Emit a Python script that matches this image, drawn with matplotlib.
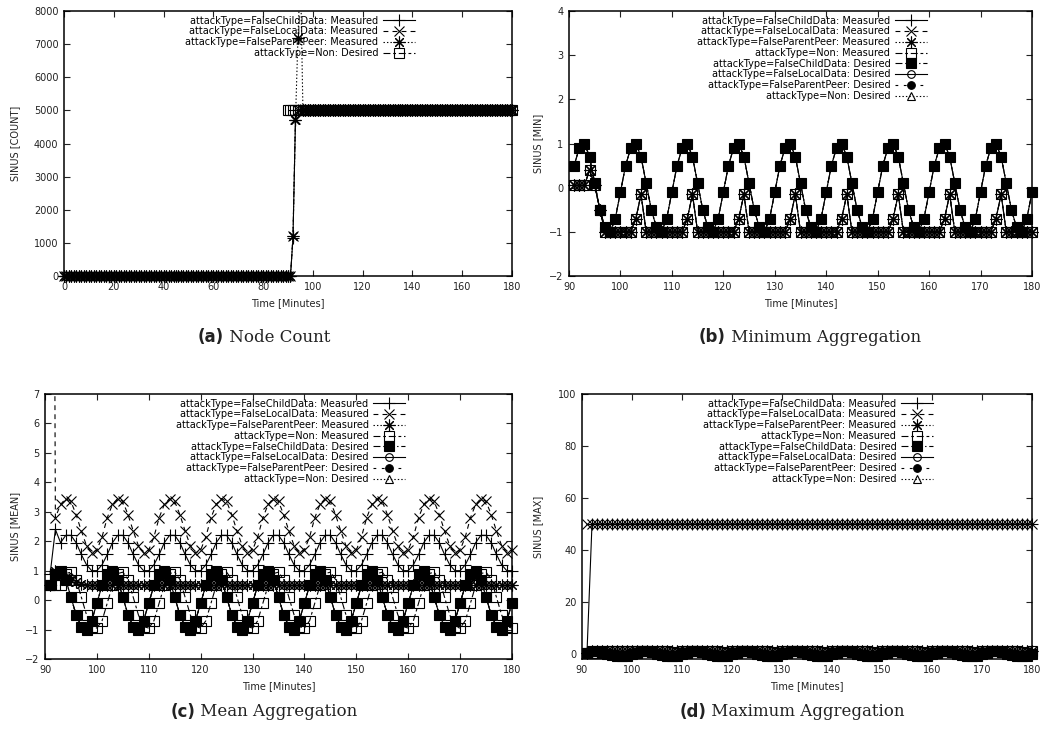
import numpy as np
import matplotlib
matplotlib.use('Agg')
import matplotlib.pyplot as plt
from matplotlib.lines import Line2D

plt.rcParams['font.family'] = 'DejaVu Sans'
plt.rcParams['lines.scale_dashes'] = False

# ---- node count (0-180 min) ----
t_count = np.arange(0, 181)
count_child_meas = [0] * 92 + [1150, 4700] + [5000] * 87
count_local_meas = [0] * 92 + [1200, 4750] + [5000] * 87
count_parent_meas = [0] * 92 + [1200, 4700, 7200, 9200] + [5000] * 85
t_count_desired = np.arange(90, 181)
count_non_desired = [5000] * 91

# ---- aggregations (91-180 min) ----
t_agg = np.arange(91, 181)

desired_sine = [
    0.5, 0.9, 1.0, 0.7, 0.1, -0.5, -0.9, -1.0, -0.7, -0.1,
    0.5, 0.9, 1.0, 0.7, 0.1, -0.5, -0.9, -1.0, -0.7, -0.1,
    0.5, 0.9, 1.0, 0.7, 0.1, -0.5, -0.9, -1.0, -0.7, -0.1,
    0.5, 0.9, 1.0, 0.7, 0.1, -0.5, -0.9, -1.0, -0.7, -0.1,
    0.5, 0.9, 1.0, 0.7, 0.1, -0.5, -0.9, -1.0, -0.7, -0.1,
    0.5, 0.9, 1.0, 0.7, 0.1, -0.5, -0.9, -1.0, -0.7, -0.1,
    0.5, 0.9, 1.0, 0.7, 0.1, -0.5, -0.9, -1.0, -0.7, -0.1,
    0.5, 0.9, 1.0, 0.7, 0.1, -0.5, -0.9, -1.0, -0.7, -0.1,
    0.5, 0.9, 1.0, 0.7, 0.1, -0.5, -0.9, -1.0, -0.7, -0.1,
]

min_measured = [
    0.05, 0.05, 0.05, 0.4, 0.05, -0.5, -1.0, -1.0, -1.0, -1.0,
    -1.0, -1.0, -0.7, -0.15, -1.0, -1.0, -1.0, -1.0, -1.0, -1.0,
    -1.0, -1.0, -0.7, -0.15, -1.0, -1.0, -1.0, -1.0, -1.0, -1.0,
    -1.0, -1.0, -0.7, -0.15, -1.0, -1.0, -1.0, -1.0, -1.0, -1.0,
    -1.0, -1.0, -0.7, -0.15, -1.0, -1.0, -1.0, -1.0, -1.0, -1.0,
    -1.0, -1.0, -0.7, -0.15, -1.0, -1.0, -1.0, -1.0, -1.0, -1.0,
    -1.0, -1.0, -0.7, -0.15, -1.0, -1.0, -1.0, -1.0, -1.0, -1.0,
    -1.0, -1.0, -0.7, -0.15, -1.0, -1.0, -1.0, -1.0, -1.0, -1.0,
    -1.0, -1.0, -0.7, -0.15, -1.0, -1.0, -1.0, -1.0, -1.0, -1.0,
]

mean_child_meas = [
    0.9, 2.4, 1.95, 2.2, 2.2, 1.95, 1.55, 1.2, 1.0, 1.0,
    1.2, 1.55, 1.95, 2.2, 2.2, 1.95, 1.55, 1.2, 1.0, 1.0,
    1.2, 1.55, 1.95, 2.2, 2.2, 1.95, 1.55, 1.2, 1.0, 1.0,
    1.2, 1.55, 1.95, 2.2, 2.2, 1.95, 1.55, 1.2, 1.0, 1.0,
    1.2, 1.55, 1.95, 2.2, 2.2, 1.95, 1.55, 1.2, 1.0, 1.0,
    1.2, 1.55, 1.95, 2.2, 2.2, 1.95, 1.55, 1.2, 1.0, 1.0,
    1.2, 1.55, 1.95, 2.2, 2.2, 1.95, 1.55, 1.2, 1.0, 1.0,
    1.2, 1.55, 1.95, 2.2, 2.2, 1.95, 1.55, 1.2, 1.0, 1.0,
    1.2, 1.55, 1.95, 2.2, 2.2, 1.95, 1.55, 1.2, 1.0, 1.0,
]
mean_local_meas = [
    50, 2.8, 3.25, 3.45, 3.35, 2.9, 2.35, 1.85, 1.6, 1.7,
    2.15, 2.8, 3.25, 3.45, 3.35, 2.9, 2.35, 1.85, 1.6, 1.7,
    2.15, 2.8, 3.25, 3.45, 3.35, 2.9, 2.35, 1.85, 1.6, 1.7,
    2.15, 2.8, 3.25, 3.45, 3.35, 2.9, 2.35, 1.85, 1.6, 1.7,
    2.15, 2.8, 3.25, 3.45, 3.35, 2.9, 2.35, 1.85, 1.6, 1.7,
    2.15, 2.8, 3.25, 3.45, 3.35, 2.9, 2.35, 1.85, 1.6, 1.7,
    2.15, 2.8, 3.25, 3.45, 3.35, 2.9, 2.35, 1.85, 1.6, 1.7,
    2.15, 2.8, 3.25, 3.45, 3.35, 2.9, 2.35, 1.85, 1.6, 1.7,
    2.15, 2.8, 3.25, 3.45, 3.35, 2.9, 2.35, 1.85, 1.6, 1.7,
]
mean_parent_meas = [0.5, 1.0, 0.9, 0.8, 0.7, 0.62, 0.56, 0.52, 0.5, 0.5] + [0.5] * 80
mean_non_meas = [
    0.5, 0.5, 0.5, 0.9, 0.95, 0.7, 0.1, -0.5, -0.9, -0.95,
    -0.7, -0.1, 0.5, 0.9, 0.95, 0.7, 0.1, -0.5, -0.9, -0.95,
    -0.7, -0.1, 0.5, 0.9, 0.95, 0.7, 0.1, -0.5, -0.9, -0.95,
    -0.7, -0.1, 0.5, 0.9, 0.95, 0.7, 0.1, -0.5, -0.9, -0.95,
    -0.7, -0.1, 0.5, 0.9, 0.95, 0.7, 0.1, -0.5, -0.9, -0.95,
    -0.7, -0.1, 0.5, 0.9, 0.95, 0.7, 0.1, -0.5, -0.9, -0.95,
    -0.7, -0.1, 0.5, 0.9, 0.95, 0.7, 0.1, -0.5, -0.9, -0.95,
    -0.7, -0.1, 0.5, 0.9, 0.95, 0.7, 0.1, -0.5, -0.9, -0.95,
    -0.7, -0.1, 0.5, 0.9, 0.95, 0.7, 0.1, -0.5, -0.9, -0.95,
]

max_child_meas = [0.5] + [50] * 89
max_local_meas = [50] * 90
max_parent_meas = [0.5, 0.9] + [1.0] * 88
max_non_meas = [
    0.5, 0.5, 0.5, 0.9, 1.0, 1.0, 1.0, 1.0, 1.0, 1.0,
    1.0, 1.0, 1.0, 1.0, 1.0, 1.0, 1.0, 0.7, 0.15, 1.0,
    1.0, 1.0, 1.0, 1.0, 1.0, 1.0, 1.0, 0.7, 0.15, 1.0,
    1.0, 1.0, 1.0, 1.0, 1.0, 1.0, 1.0, 0.7, 0.15, 1.0,
    1.0, 1.0, 1.0, 1.0, 1.0, 1.0, 1.0, 0.7, 0.15, 1.0,
    1.0, 1.0, 1.0, 1.0, 1.0, 1.0, 1.0, 0.7, 0.15, 1.0,
    1.0, 1.0, 1.0, 1.0, 1.0, 1.0, 1.0, 0.7, 0.15, 1.0,
    1.0, 1.0, 1.0, 1.0, 1.0, 1.0, 1.0, 0.7, 0.15, 1.0,
    1.0, 1.0, 1.0, 1.0, 1.0, 1.0, 1.0, 0.7, 0.15, 1.0,
]

labels8 = [
    'attackType=FalseChildData: Measured',
    'attackType=FalseLocalData: Measured',
    'attackType=FalseParentPeer: Measured',
    'attackType=Non: Measured',
    'attackType=FalseChildData: Desired',
    'attackType=FalseLocalData: Desired',
    'attackType=FalseParentPeer: Desired',
    'attackType=Non: Desired',
]
labels_count = labels8[:3] + [labels8[7]]

# gnuplot-like monochrome line types
STYLES = [
    dict(ls='-', marker='+', ms=8.5, mfc='none'),
    dict(ls=(0, (3.5, 3)), marker='x', ms=7, mfc='none'),
    dict(ls=(0, (1, 1.5)), marker=(8, 2, 0), ms=8.5, mfc='none'),
    dict(ls=(0, (5, 2, 2, 2)), marker='s', ms=7, mfc='none'),
    dict(ls=(0, (5, 2, 1, 2)), marker='s', ms=7, mfc='black'),
    dict(ls='-', marker='o', ms=5.5, mfc='none'),
    dict(ls=(0, (2, 4)), marker='o', ms=5.5, mfc='black'),
    dict(ls=(0, (1, 1.5)), marker='^', ms=5.5, mfc='none'),
]
LW = 0.8


def draw(ax, x, y, st):
    x = np.asarray(x)
    y = np.asarray(y, dtype=float)
    ax.plot(x, y, color='black', lw=LW, ls=st['ls'])
    lo, hi = ax.get_ylim()
    keep = (y >= lo) & (y <= hi)
    ax.plot(x[keep], y[keep], ls='none', color='black', marker=st['marker'],
            ms=st['ms'], mfc=st['mfc'], mec='black', mew=LW, clip_on=False)


def style_axes(ax, xlim, ylim, xticks, yticks, ylabel, ylab_x):
    ax.set_xlim(*xlim)
    ax.set_ylim(*ylim)
    ax.set_xticks(xticks)
    ax.set_yticks(yticks)
    ax.tick_params(direction='in', top=True, right=True, length=4, width=0.8,
                   labelsize=7, pad=4, colors='#222222')
    for s in ax.spines.values():
        s.set_linewidth(1.1)
    ax.set_xlabel('Time [Minutes]', fontsize=7, color='#222222')
    ax.set_ylabel(ylabel, fontsize=7, color='#222222')
    ax.xaxis.set_label_coords(0.5, -0.085)
    ax.yaxis.set_label_coords(ylab_x, 0.5)


def add_legend(ax, idx, labels, right):
    handles = [Line2D([], [], color='black', lw=LW, ls=STYLES[i]['ls'],
                      marker=STYLES[i]['marker'], ms=STYLES[i]['ms'],
                      mfc=STYLES[i]['mfc'], mec='black', mew=LW) for i in idx]
    ax.legend(handles, labels, loc='upper right', bbox_to_anchor=(right, 0.99),
              markerfirst=False, frameon=False, fontsize=7, handlelength=3.3,
              handletextpad=0.5, labelspacing=0.08, borderpad=0.2,
              borderaxespad=0)


W, H = 1046, 735
fig = plt.figure(figsize=(W / 100, H / 100), dpi=100)


def axes_px(left, top, right, bottom):
    return fig.add_axes([left / W, 1 - bottom / H, (right - left) / W, (bottom - top) / H])


ax_a = axes_px(64, 11, 512, 276)
ax_b = axes_px(569, 11, 1032, 276)
ax_c = axes_px(45, 394, 512, 659)
ax_d = axes_px(582, 394, 1032, 659)

# (a) node count
style_axes(ax_a, (0, 180), (0, 8000), range(0, 181, 20), range(0, 8001, 1000),
           'SINUS [COUNT]', -0.098)
for y, i in [(count_child_meas, 0), (count_local_meas, 1), (count_parent_meas, 2)]:
    draw(ax_a, t_count, y, STYLES[i])
draw(ax_a, t_count_desired, count_non_desired, STYLES[3])
add_legend(ax_a, [0, 1, 2, 3], labels_count, 0.788)

# (b) minimum
style_axes(ax_b, (90, 180), (-2, 4), range(90, 181, 10), range(-2, 5),
           'SINUS [MIN]', -0.056)
for i in range(4):
    draw(ax_b, t_agg, min_measured, STYLES[i])
for i in range(4, 8):
    draw(ax_b, t_agg, desired_sine, STYLES[i])
add_legend(ax_b, range(8), labels8, 0.778)

# (c) mean
style_axes(ax_c, (90, 180), (-2, 7), range(90, 181, 10), range(-2, 8),
           'SINUS [MEAN]', -0.054)
for y, i in [(mean_child_meas, 0), (mean_local_meas, 1),
             (mean_parent_meas, 2), (mean_non_meas, 3)]:
    draw(ax_c, t_agg, y, STYLES[i])
for i in range(4, 8):
    draw(ax_c, t_agg, desired_sine, STYLES[i])
add_legend(ax_c, range(8), labels8, 0.776)

# (d) maximum
style_axes(ax_d, (90, 180), (-2, 100), range(90, 181, 10), range(0, 101, 20),
           'SINUS [MAX]', -0.087)
for y, i in [(max_child_meas, 0), (max_local_meas, 1),
             (max_parent_meas, 2), (max_non_meas, 3)]:
    draw(ax_d, t_agg, y, STYLES[i])
for i in range(4, 8):
    draw(ax_d, t_agg, desired_sine, STYLES[i])
add_legend(ax_d, range(8), labels8, 0.785)


# sub-captions: bold tag + serif title
renderer = fig.canvas.get_renderer()


def caption(xc, yc, tag, title):
    t1 = fig.text(0, 1 - yc / H, tag, fontsize=12, fontweight='bold',
                  family='DejaVu Sans', va='center', color='#222222')
    t2 = fig.text(0, 1 - yc / H, ' ' + title, fontsize=12, family='DejaVu Serif',
                  va='center', color='#222222')
    w1 = t1.get_window_extent(renderer).width
    w2 = t2.get_window_extent(renderer).width
    x0 = xc - (w1 + w2) / 2
    t1.set_x(x0 / W)
    t2.set_x((x0 + w1) / W)


caption(264, 337, '(a)', 'Node Count')
caption(810, 337, '(b)', 'Minimum Aggregation')
caption(264, 712, '(c)', 'Mean Aggregation')
caption(792, 712, '(d)', 'Maximum Aggregation')

fig.savefig('out.png', dpi=100)
